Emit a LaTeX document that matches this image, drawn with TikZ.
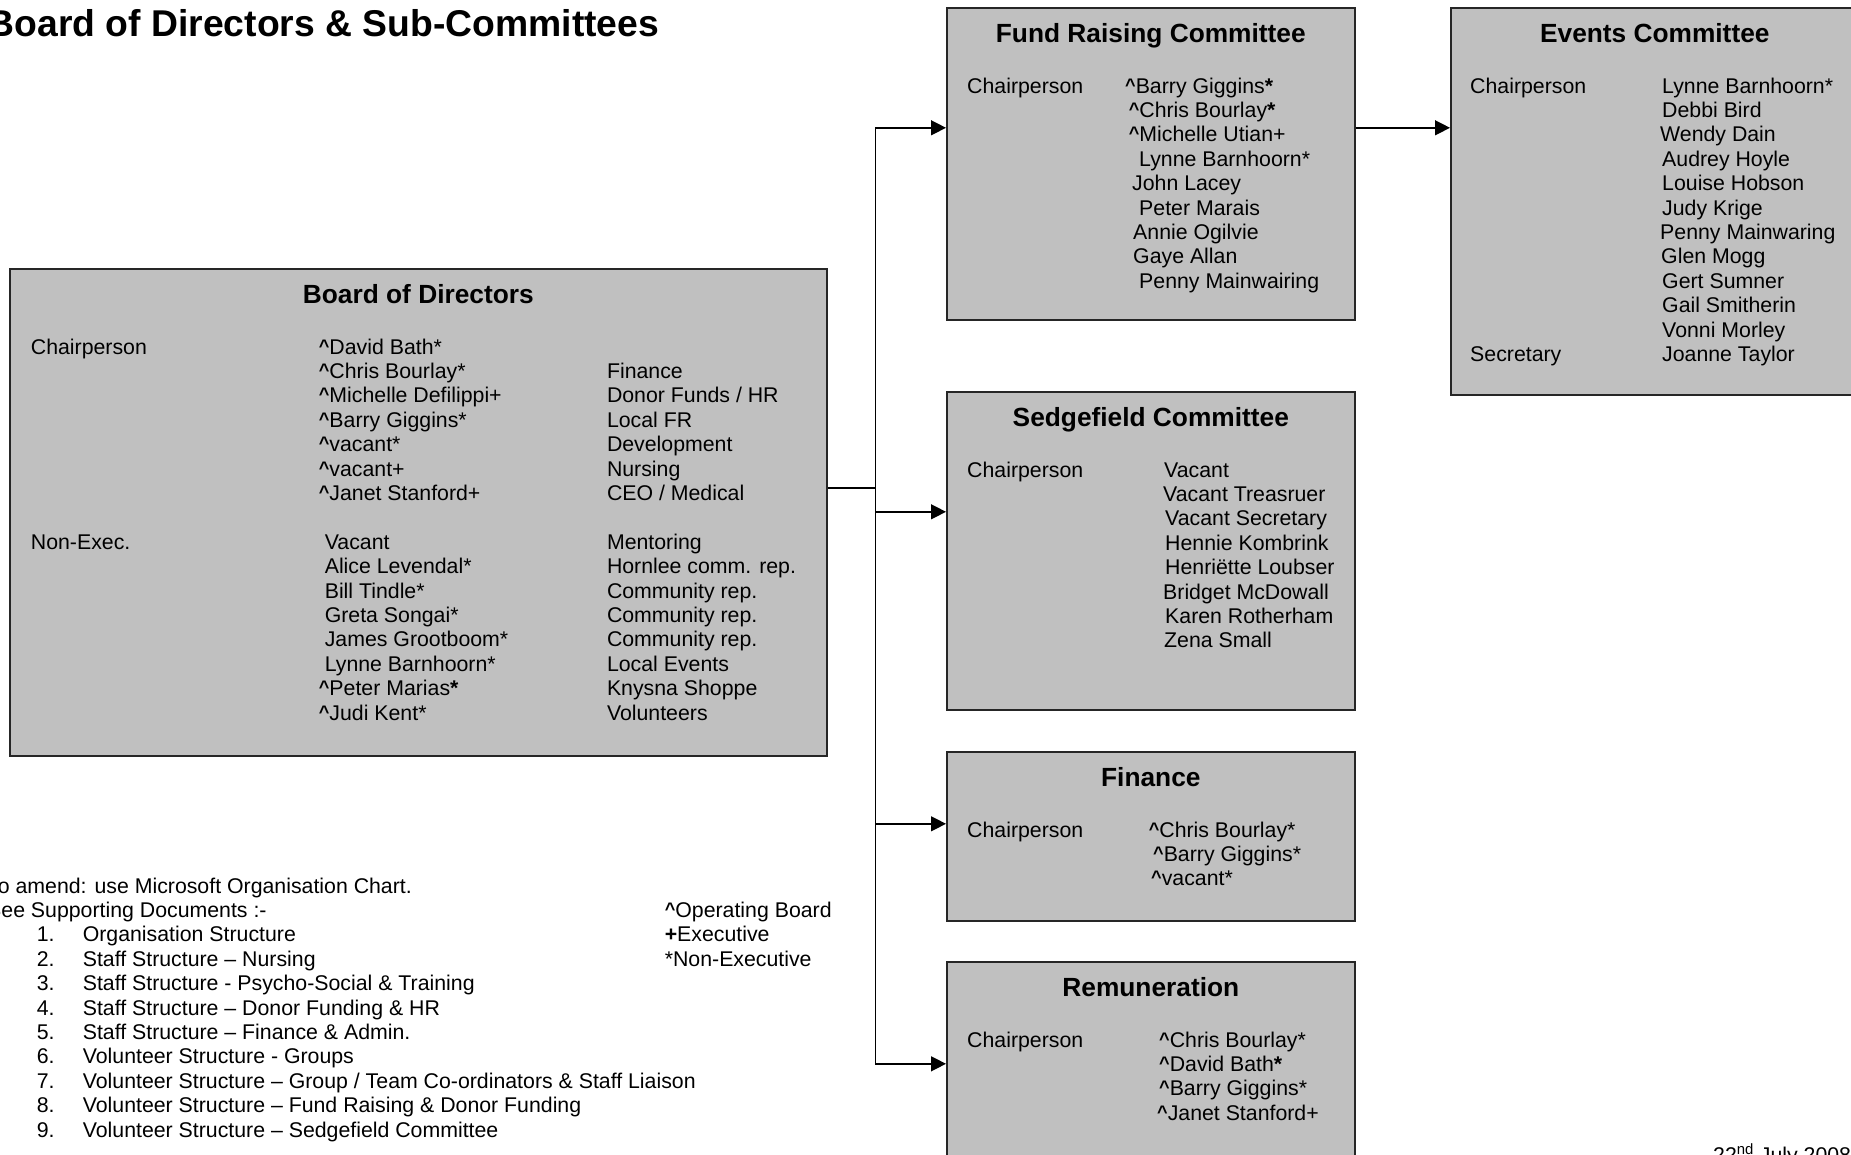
\documentclass[tikz,border=0pt]{standalone}
\usepackage{fontspec}
\setmainfont{Liberation Sans}
\usetikzlibrary{arrows.meta}
\definecolor{boxgray}{RGB}{192,192,192}
\newcommand\op{\raisebox{2pt}{\scalebox{0.85}{\bfseries\textasciicircum}}}
\newcommand\bdfont{\fontsize{21.3}{24.4}\selectfont}
\newcommand\hdfont{\fontsize{26.3}{30}\selectfont\bfseries}
\tikzset{
	box/.style={draw=black!85, line width=1.6pt, fill=boxgray, anchor=north west, inner sep=0pt},
	txt/.style={anchor=base west, inner sep=0pt, font=\bdfont},
	head/.style={anchor=base, inner sep=0pt, font=\hdfont},
	link/.style={line width=1.4pt},
	arr/.style={link, -{Triangle[length=15pt,width=15pt]}}
}
\begin{document}
\begin{tikzpicture}[x=1pt,y=-1pt]
	\useasboundingbox (0,0) rectangle (1851,1154);
	\node[anchor=base west, inner sep=0pt, font=\fontsize{37.3}{40}\selectfont\bfseries] (title) at (-12.5,36) {Board of Directors \& Sub-Committees};
	\node[box, minimum width=817pt, minimum height=487pt] (board) at (9,268) {};
	\node[box, minimum width=408pt, minimum height=312pt] (fund) at (946,7) {};
	\node[box, minimum width=408pt, minimum height=387pt] (events) at (1450,7) {};
	\node[box, minimum width=408pt, minimum height=318pt] (sedge) at (946,391) {};
	\node[box, minimum width=408pt, minimum height=169pt] (fin) at (946,751) {};
	\node[box, minimum width=408pt, minimum height=204pt] (remun) at (946,961) {};
	\node[head] (board-h) at ([yshift=-35.4pt]board.north) {Board of Directors};
	\node[head] (fund-h) at ([yshift=-35.4pt]fund.north) {Fund Raising Committee};
	\node[head] (events-h) at ([yshift=-35.4pt]events.north) {Events Committee};
	\node[head] (sedge-h) at ([yshift=-35.4pt]sedge.north) {Sedgefield Committee};
	\node[head] (fin-h) at ([yshift=-35.4pt]fin.north) {Finance};
	\node[head] (remun-h) at ([yshift=-35.4pt]remun.north) {Remuneration};

	\node[txt] (board-c) at (30.7,354) {Chairperson};
	\node[txt] (board-ne) at (30.7,{354+24.4*8}) {Non-Exec.};
	\foreach \i/\x/\j in {0/318.7/\op David Bath*,1/318.7/\op Chris Bourlay*,2/318.7/\op Michelle Defilippi+,
		3/318.7/\op Barry Giggins*,4/318.7/\op vacant*,5/318.7/\op vacant+,6/318.7/\op Janet Stanford+,
		8/324.6/Vacant,9/324.6/Alice Levendal*,10/324.6/Bill Tindle*,11/324.6/Greta Songai*,
		12/324.6/James Grootboom*,13/324.6/Lynne Barnhoorn*,14/318.7/\op Peter Marias\textbf{*},15/318.7/\op Judi Kent*}{
		\node[txt] (board-n\i) at (\x,{354+24.4*\i}) {\j};
	}
	\foreach \i/\j in {1/Finance,2/{Donor Funds / HR},3/Local FR,4/Development,5/Nursing,6/{CEO / Medical},
		8/Mentoring,9/Hornlee comm. rep.,10/Community rep.,11/Community rep.,12/Community rep.,
		13/Local Events,14/Knysna Shoppe,15/Volunteers}{
		\node[txt] (board-r\i) at (606.8,{354+24.4*\i}) {\j};
	}

	\node[txt] (fund-c) at (967,93) {Chairperson};
	\foreach \i/\x/\j in {0/1125/\op Barry Giggins\textbf{*},1/1128.6/\op Chris Bourlay\textbf{*},2/1128.6/\op Michelle Utian+,
		3/1139/Lynne Barnhoorn*,4/1132/John Lacey,5/1139/Peter Marais,6/1133/Annie Ogilvie,
		7/1133/Gaye Allan,8/1139/Penny Mainwairing}{
		\node[txt] (fund-n\i) at (\x,{93+24.4*\i}) {\j};
	}

	\node[txt] (events-c) at (1470,93) {Chairperson};
	\node[txt] (events-s) at (1470,{93+24.4*11}) {Secretary};
	\foreach \i/\x/\j in {0/1662/Lynne Barnhoorn*,1/1662/Debbi Bird,2/1660/Wendy Dain,3/1662/Audrey Hoyle,
		4/1662/Louise Hobson,5/1662/Judy Krige,6/1660/Penny Mainwaring,7/1661/Glen Mogg,
		8/1662/Gert Sumner,9/1662/Gail Smitherin,10/1662/Vonni Morley,11/1662/Joanne Taylor}{
		\node[txt] (events-n\i) at (\x,{93+24.4*\i}) {\j};
	}

	\node[txt] (sedge-c) at (967,477) {Chairperson};
	\foreach \i/\x/\j in {0/1164/Vacant,1/1163/Vacant Treasruer,2/1165/Vacant Secretary,3/1165/Hennie Kombrink,
		4/1165/Henriëtte Loubser,5/1163/Bridget McDowall,6/1165/Karen Rotherham,7/1164/Zena Small}{
		\node[txt] (sedge-n\i) at (\x,{477+24.4*\i}) {\j};
	}

	\node[txt] (fin-c) at (967,837) {Chairperson};
	\foreach \i/\x/\j in {0/1148.6/\op Chris Bourlay*,1/1153/\op Barry Giggins*,2/1151/\op vacant*}{
		\node[txt] (fin-n\i) at (\x,{837+24.4*\i}) {\j};
	}

	\node[txt] (remun-c) at (967,1047) {Chairperson};
	\foreach \i/\x/\j in {0/1159/\op Chris Bourlay*,1/1159/\op David Bath\textbf{*},2/1159/\op Barry Giggins*,3/1157/\op Janet Stanford+}{
		\node[txt] (remun-n\i) at (\x,{1047+24.4*\i}) {\j};
	}

	\coordinate (bus) at ([xshift=48pt,yshift=24.5pt]board.east);
	\draw[link] (board.east |- bus) -- (bus);
	\draw[arr] (bus) |- ([yshift=36pt]fund.west);
	\draw[arr] (bus) |- ([yshift=39pt]sedge.west);
	\draw[arr] (bus) |- ([yshift=12.5pt]fin.west);
	\draw[arr] (bus) |- (remun.west);
	\draw[arr] ([yshift=36pt]fund.east) -- ([yshift=36pt]fund.east -| events.west);

	\node[txt] (amend) at (-13,893) {To amend: use Microsoft Organisation Chart.};
	\node[txt] (see) at (-13,{893+24.4}) {See Supporting Documents :-};
	\foreach \i/\j in {1/Organisation Structure,2/Staff Structure – Nursing,3/Staff Structure - Psycho-Social \& Training,
		4/Staff Structure – Donor Funding \& HR,5/Staff Structure – Finance \& Admin.,6/Volunteer Structure - Groups,
		7/{Volunteer Structure – Group / Team Co-ordinators \& Staff Liaison},8/Volunteer Structure – Fund Raising \& Donor Funding,
		9/Volunteer Structure – Sedgefield Committee}{
		\node[txt] (doc-n\i) at (36.6,{893+24.4*(\i+1)}) {\i.};
		\node[txt] (doc\i) at (82.6,{893+24.4*(\i+1)}) {\j};
	}
	\node[txt] (key-op) at (664.6,{893+24.4}) {\op Operating Board};
	\node[txt] (key-ex) at (664.6,{893+24.4*2}) {\textbf{+}Executive};
	\node[txt] (key-ne) at (664.6,{893+24.4*3}) {*Non-Executive};
	\node[txt] (date) at (1713,1162) {22\textsuperscript{nd} July 2008};
\end{tikzpicture}
\end{document}
